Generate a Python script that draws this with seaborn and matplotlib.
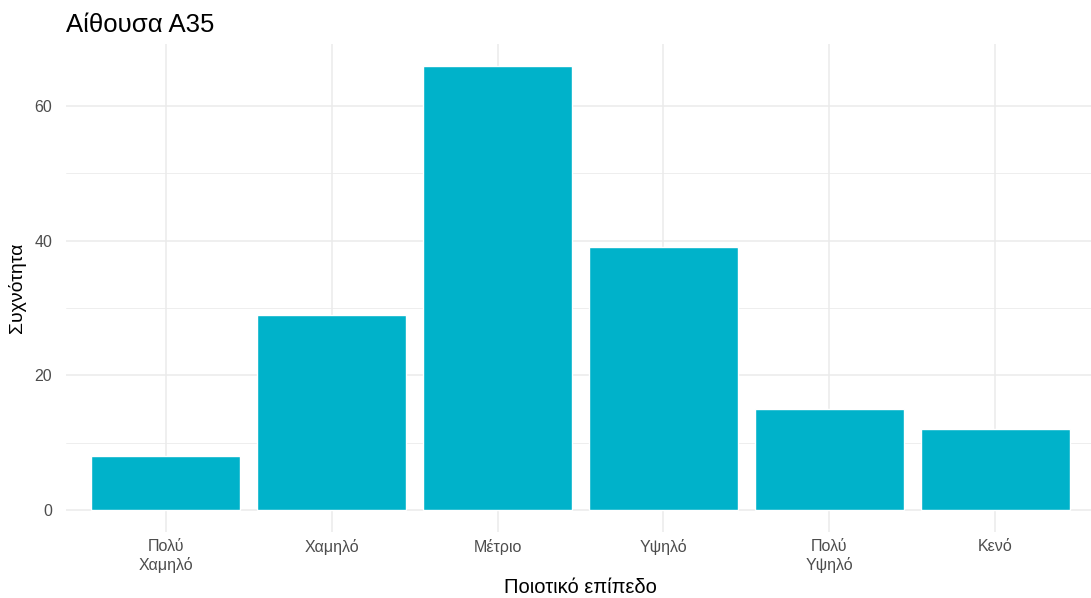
import matplotlib
matplotlib.use("Agg")
import matplotlib.pyplot as plt
import seaborn as sns
import pandas as pd
from matplotlib.ticker import MultipleLocator

# Δεδομένα
levels = ["Πολύ\nΧαμηλό", "Χαμηλό", "Μέτριο", "Υψηλό", "Πολύ\nΥψηλό", "Κενό"]
counts = [8, 29, 66, 39, 15, 12]

sns.set_theme(style="whitegrid")
plt.rcParams['font.family'] = ['Liberation Sans', 'DejaVu Sans']

df = pd.DataFrame({'level': levels, 'count': counts})

fig = plt.figure(figsize=(10.91, 5.98), dpi=100)
ax = fig.add_axes([66 / 1091, 1 - 532 / 598, 1029 / 1091, (532 - 43.6) / 598])

sns.barplot(data=df, x='level', y='count', color='#00B2CA', saturation=1,
            width=0.9, ax=ax, zorder=2)

ax.set_xlim(-0.6, len(levels) - 0.4)
ax.set_ylim(-3.3, 69.3)
ax.yaxis.set_major_locator(MultipleLocator(20))
ax.yaxis.set_minor_locator(MultipleLocator(10))

ax.grid(which='major', color='#EBEBEB', linewidth=1.1)
ax.grid(which='minor', axis='y', color='#EBEBEB', linewidth=0.6)
ax.set_axisbelow(True)
for s in ax.spines.values():
    s.set_visible(False)

ax.tick_params(axis='both', colors='#4D4D4D', labelsize=11.5, length=0, pad=5)
ax.tick_params(axis='y', pad=10)
ax.set_xlabel("Ποιοτικό επίπεδο", fontsize=14.5, color='black', labelpad=4)
ax.set_ylabel("Συχνότητα", fontsize=14, color='black', labelpad=6)
ax.set_title("Αίθουσα A35", fontsize=18.5, loc='left', x=0.0, pad=8, color='black')

fig.savefig('out.png', dpi=100)
